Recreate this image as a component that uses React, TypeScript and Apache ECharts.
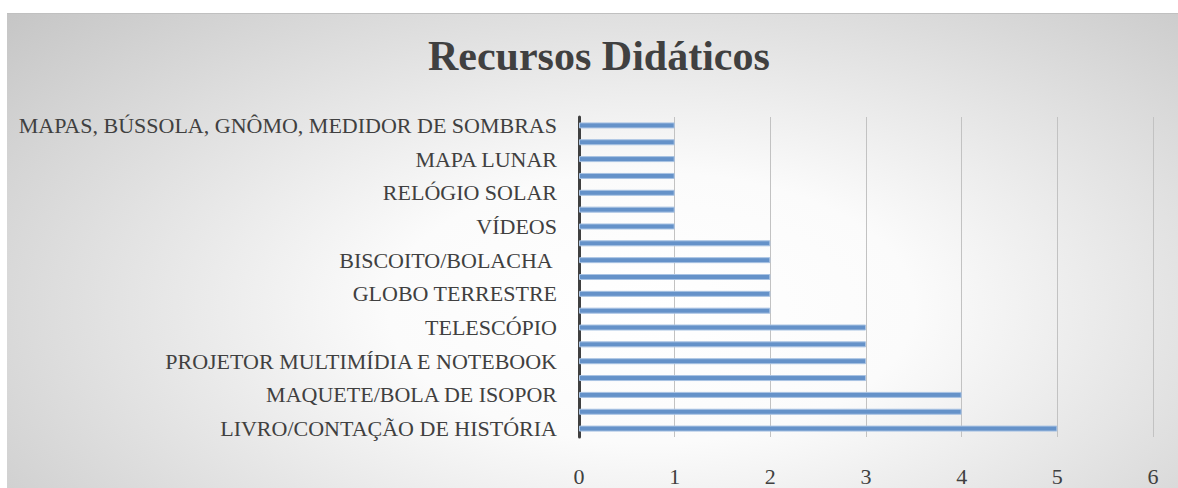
import React, { useEffect, useRef } from "react";
import * as echarts from "echarts";

// Categories from bottom to top (only every other one is labelled in the reference)
const categories: string[] = [
  "LIVRO/CONTAÇÃO DE HISTÓRIA",
  "LIVRO DIDÁTICO",
  "MAQUETE/BOLA DE ISOPOR",
  "LANTERNA",
  "PROJETOR MULTIMÍDIA E NOTEBOOK",
  "DESENHOS",
  "TELESCÓPIO",
  "MÚSICAS",
  "GLOBO TERRESTRE",
  "IMAGENS",
  "BISCOITO/BOLACHA ",
  "CARTAZES",
  "VÍDEOS",
  "MASSINHA DE MODELAR",
  "RELÓGIO SOLAR",
  "JOGOS",
  "MAPA LUNAR",
  "SOFTWARE STELLARIUM",
  "MAPAS, BÚSSOLA, GNÔMO, MEDIDOR DE SOMBRAS",
];
const values: number[] = [5, 4, 4, 3, 3, 3, 3, 2, 2, 2, 2, 2, 1, 1, 1, 1, 1, 1, 1];
const xTicks: number[] = [0, 1, 2, 3, 4, 5, 6];
const title = "Recursos Didáticos";

export default function App() {
  const ref = useRef<HTMLDivElement>(null);
  useEffect(() => {
    if (!ref.current) return;
    const chart = echarts.init(ref.current, undefined, { renderer: "svg" });
    chart.setOption({
      animation: false,
      title: {
        text: title,
        left: 416,
        top: 16,
        textStyle: {
          fontFamily: "Liberation Serif",
          fontSize: 42,
          fontWeight: "bold",
          color: "#404040",
        },
      },
      grid: { left: 572, right: 25, top: 103, bottom: 51, containLabel: false },
      xAxis: {
        type: "value",
        min: xTicks[0],
        max: xTicks[xTicks.length - 1],
        interval: 1,
        axisLine: { show: false },
        axisTick: { show: false },
        splitLine: { show: true, lineStyle: { color: "#c2c2c2", width: 1 } },
        axisLabel: {
          margin: 28,
          fontFamily: "Liberation Serif",
          fontSize: 22,
          color: "#404040",
        },
      },
      yAxis: {
        type: "category",
        data: categories,
        axisLine: { show: true, lineStyle: { color: "#404040", width: 3 } },
        axisTick: { show: false },
        axisLabel: {
          interval: 1,
          margin: 22,
          fontFamily: "Liberation Serif",
          fontSize: 22,
          color: "#404040",
        },
      },
      series: [
        {
          type: "bar",
          data: values,
          barWidth: 6,
          itemStyle: { color: "#6592c9", borderColor: "#a9c3e3", borderWidth: 1 },
        },
      ],
    });
    return () => chart.dispose();
  }, []);
  return (
    <div
      style={{
        position: "absolute",
        left: 7,
        top: 13,
        width: 1171,
        height: 475,
        borderTop: "1px solid #c0c0c0",
        boxSizing: "border-box",
        background:
          "radial-gradient(ellipse 75% 95% at 55% 62%, #ffffff 0%, #fbfbfb 30%, #c4c4c4 100%)",
      }}
    >
      <div ref={ref} style={{ width: 1171, height: 474 }} />
    </div>
  );
}
